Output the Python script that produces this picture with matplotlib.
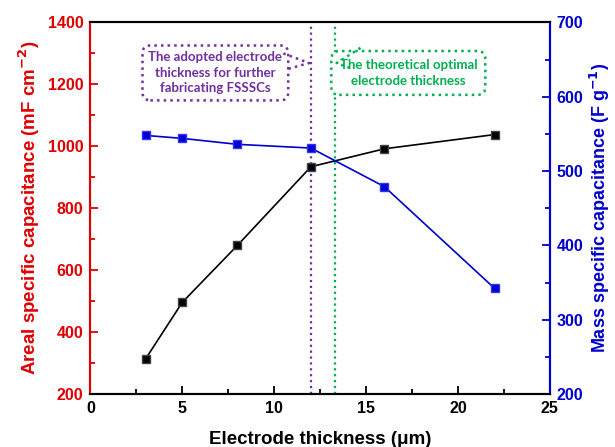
import matplotlib
matplotlib.use('Agg')
import matplotlib.pyplot as plt
from matplotlib.ticker import MultipleLocator

plt.rcParams['font.family'] = ['Liberation Sans', 'DejaVu Sans']
plt.rcParams['font.weight'] = 'bold'

# data
thickness = [3, 5, 8, 12, 16, 22]
areal_cap = [313, 496, 680, 934, 992, 1038]
mass_cap = [548, 544, 536, 531, 479, 342]
adopted_x = 12
optimal_x = 13.3

red = '#E00000'
blue = '#0000CC'
purple = '#7030A0'
green = '#00B050'

fig = plt.figure(figsize=(6.15, 4.47), dpi=100)
ax = fig.add_axes([0.147, 0.1186, 0.747, 0.8311])
ax2 = ax.twinx()

ax.axvline(adopted_x, color=purple, ls=':', lw=1.6, zorder=1)
ax.axvline(optimal_x, color=green, ls=':', lw=1.6, zorder=1)

ax.plot(thickness, areal_cap, color='black', lw=1.2, marker='s', ms=5.5,
        mfc='black', mec='#444444', zorder=3)
ax2.plot(thickness, mass_cap, color=blue, lw=1.2, marker='s', ms=5.5,
         mfc=blue, mec='#3333ff', zorder=3)

ax.set_xlim(0, 25)
ax.set_ylim(200, 1400)
ax2.set_ylim(200, 700)

ax.xaxis.set_major_locator(MultipleLocator(5))
ax.xaxis.set_minor_locator(MultipleLocator(2.5))
ax.yaxis.set_major_locator(MultipleLocator(200))
ax.yaxis.set_minor_locator(MultipleLocator(100))
ax2.yaxis.set_major_locator(MultipleLocator(100))
ax2.yaxis.set_minor_locator(MultipleLocator(50))

ax.tick_params(axis='x', which='both', direction='in', top=False, colors='black',
               labelsize=11.5, width=1.3, pad=5)
ax.tick_params(axis='x', which='major', length=6)
ax.tick_params(axis='x', which='minor', length=3.5)
ax.tick_params(axis='y', which='both', direction='in', colors=red,
               labelsize=11.5, width=1.3, pad=5)
ax.tick_params(axis='y', which='major', length=6)
ax.tick_params(axis='y', which='minor', length=3.5)
ax2.tick_params(axis='y', which='both', direction='in', colors=blue,
                labelsize=11.5, width=1.3, pad=5)
ax2.tick_params(axis='y', which='major', length=6)
ax2.tick_params(axis='y', which='minor', length=3.5)

for a in (ax, ax2):
    a.spines['left'].set_color(red)
    a.spines['right'].set_color(blue)
    a.spines['bottom'].set_color('black')
    a.spines['top'].set_color('black')
    for s in a.spines.values():
        s.set_linewidth(1.5)

ax.set_xlabel('Electrode thickness (\u03bcm)', fontsize=13.5, fontweight='bold', labelpad=11)
ax.set_ylabel('Areal specific capacitance (mF cm$^{\\mathbf{-2}}$)', fontsize=13.5,
              fontweight='bold', color=red, labelpad=4)
ax2.set_ylabel('Mass specific capacitance (F g$^{\\mathbf{-1}}$)', fontsize=13,
               fontweight='bold', color=blue, labelpad=3)

# callouts
ax.text(6.8, 1237, 'The adopted electrode\nthickness for further\nfabricating FSSSCs',
        ha='center', va='center', fontsize=9.5, color=purple, family='Lato',
        fontweight='bold', linespacing=1.35, zorder=5,
        bbox=dict(boxstyle='round,pad=0.45,rounding_size=0.6', fc='white',
                  ec=purple, ls=':', lw=1.8))
ax.plot([10.5, 11.9, 10.75], [1300, 1269, 1250], color=purple, ls=':', lw=1.8,
        zorder=6)
ax.text(17.3, 1237, 'The theoretical optimal\nelectrode thickness',
        ha='center', va='center', fontsize=9.5, color=green, family='Lato',
        fontweight='bold', linespacing=1.35, zorder=5,
        bbox=dict(boxstyle='round,pad=0.62,rounding_size=0.6', fc='white',
                  ec=green, ls=':', lw=1.8))
ax.plot([14.7, 13.4, 14.3], [1318, 1269, 1249], color=green, ls=':', lw=1.8,
        zorder=6)

fig.savefig('out.png', dpi=100)
